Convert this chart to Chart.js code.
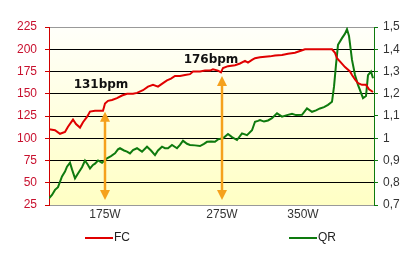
<!DOCTYPE html>
<html>
<head>
<meta charset="utf-8">
<script src="https://cdn.jsdelivr.net/npm/chart.js@4"></script>
<style>
body { margin: 0; background: #fff; }
</style>
</head>
<body>
<canvas id="myChart" width="418" height="257"></canvas>
<script>
// donnees (t = temps, 0..325)
var fcT = [0,6,11,16,19,24,27,31,34,38,41,46,51,54,56,59,63,68,73,78,84,88,94,99,104,109,114,118,122,126,131,136,141,144,151,156,161,164,169,172,174,179,186,191,196,199,203,206,211,216,221,226,233,239,246,251,256,261,271,283,286,288,292,296,301,303,306,309,313,317,320,324];
var fcVal = [110,109,105,107,113,121,116,112,118,124,130,131,131,131,139,142,143,145,148,150,150,151,154,158,160,158,162,165,167,170,170,171,172,175,175,176,176,177.5,176,174,179,181,182,184,187,185,188,190,191,191.6,192,193,193.5,195,196,198,200,200,200,200,196,190,185,180,175,171,166,162,160,160,155,152];

var qrT = [0,3,6,9,13,16,18,21,23,26,29,33,36,39,41,44,46,49,53,58,62,66,69,71,75,78,81,84,88,93,98,102,106,109,113,116,119,123,128,131,134,138,141,146,151,155,158,162,166,169,174,179,183,188,193,198,203,206,209,211,215,219,223,228,233,238,243,247,253,258,263,267,271,275,279,283,285,287,289,293,296,298,300,303,306,309,311,314,317,319,322,324];
var qrVal = [0.73,0.745,0.768,0.78,0.828,0.85,0.872,0.89,0.86,0.82,0.842,0.87,0.9,0.88,0.864,0.88,0.886,0.9,0.89,0.91,0.92,0.932,0.95,0.955,0.945,0.94,0.932,0.947,0.955,0.94,0.962,0.945,0.924,0.945,0.962,0.955,0.955,0.97,0.955,0.97,0.989,0.975,0.97,0.968,0.965,0.975,0.984,0.985,0.984,0.995,1.0,1.019,1.005,0.992,1.022,1.014,1.036,1.074,1.078,1.082,1.075,1.08,1.09,1.112,1.097,1.104,1.11,1.104,1.105,1.134,1.119,1.125,1.134,1.14,1.15,1.164,1.232,1.33,1.42,1.45,1.47,1.49,1.46,1.352,1.284,1.24,1.216,1.18,1.19,1.284,1.3,1.27];

var xTickPos = [56,173,254];
var xTickLabels = ['175W','275W','350W'];
var fcTicks = [25,50,75,100,125,150,175,200,225];
var qrTicks = [0.7,0.8,0.9,1.0,1.1,1.2,1.3,1.4,1.5];

// fleches + textes bpm
var noteLabels = ['131bpm','176bpm'];
var noteTextT = [52,162];
var noteTextY = [160,188];
var arrowT = [56,173];
var arrowTop = [129.8,170];
var arrowBottom = [30.6,30.6];

var legendNames = ['FC','QR'];
var redColor = '#e00000';
var greenColor = '#0e7a0e';

var fondPlugin = {
  id: 'fond',
  beforeDraw: function(chart){
    var c = chart.ctx, a = chart.chartArea;
    var g = c.createLinearGradient(0, a.top, 0, a.bottom);
    g.addColorStop(0, '#fffffa');
    g.addColorStop(1, '#ffffc4');
    c.save();
    c.fillStyle = g;
    c.fillRect(a.left, a.top, a.right - a.left, a.bottom - a.top);
    c.restore();
  }
};

function drawHead(c, x, y, dir){
  c.beginPath();
  c.moveTo(x, y);
  c.lineTo(x - 5, y + dir * 10);
  c.lineTo(x + 5, y + dir * 10);
  c.closePath();
  c.fill();
}

var notesPlugin = {
  id: 'notes',
  afterDatasetsDraw: function(chart){
    var c = chart.ctx, xs = chart.scales.x, ys = chart.scales.y;
    c.save();
    c.strokeStyle = '#f5a11c';
    c.fillStyle = '#f5a11c';
    c.lineWidth = 2.5;
    for (var i = 0; i < arrowT.length; i++){
      var x = Math.round(xs.getPixelForValue(arrowT[i]));
      var y1 = ys.getPixelForValue(arrowTop[i]);
      var y2 = ys.getPixelForValue(arrowBottom[i]);
      c.beginPath();
      c.moveTo(x, y1 + 8);
      c.lineTo(x, y2 - 8);
      c.stroke();
      drawHead(c, x, y1, 1);
      drawHead(c, x, y2, -1);
    }
    c.fillStyle = '#111';
    c.font = 'bold 12px "DejaVu Sans"';
    c.textAlign = 'center';
    c.textBaseline = 'middle';
    for (var j = 0; j < noteLabels.length; j++){
      c.fillText(noteLabels[j], xs.getPixelForValue(noteTextT[j]), ys.getPixelForValue(noteTextY[j]));
    }
    c.restore();
  }
};

var legendePlugin = {
  id: 'legende',
  afterDraw: function(chart){
    var c = chart.ctx;
    var xs = [85, 289];
    var cols = [redColor, greenColor];
    c.save();
    c.font = '12px "Liberation Sans"';
    c.textBaseline = 'middle';
    c.textAlign = 'left';
    for (var i = 0; i < legendNames.length; i++){
      c.strokeStyle = cols[i];
      c.lineWidth = 2;
      c.beginPath();
      c.moveTo(xs[i], 238);
      c.lineTo(xs[i] + 28, 238);
      c.stroke();
      c.fillStyle = '#222';
      c.fillText(legendNames[i], xs[i] + 29, 238);
    }
    c.restore();
  }
};

var ctx = document.getElementById('myChart').getContext('2d');
var chart = new Chart(ctx, {
  type: 'line',
  data: {
    datasets: [
      {
        label: 'FC',
        data: fcT.map(function(t, i){ return {x: t, y: fcVal[i]}; }),
        borderColor: redColor,
        borderWidth: 2,
        pointRadius: 0,
        tension: 0,
        yAxisID: 'y'
      },
      {
        label: 'QR',
        data: qrT.map(function(t, i){ return {x: t, y: qrVal[i]}; }),
        borderColor: greenColor,
        borderWidth: 2,
        pointRadius: 0,
        tension: 0,
        yAxisID: 'y1'
      }
    ]
  },
  options: {
    responsive: false,
    animation: false,
    layout: { padding: { top: 27, left: 0, right: 0, bottom: 30 } },
    plugins: { legend: { display: false }, tooltip: { enabled: false } },
    scales: {
      x: {
        type: 'linear',
        min: 0,
        max: 325,
        afterBuildTicks: function(s){ s.ticks = xTickPos.map(function(v){ return {value: v}; }); },
        afterFit: function(s){ s.height = 22; },
        ticks: {
          color: '#333',
          font: { family: 'Liberation Sans', size: 12 },
          padding: 2,
          maxRotation: 0,
          autoSkip: false,
          callback: function(v){ return xTickLabels[xTickPos.indexOf(v)]; }
        },
        grid: { display: false, drawTicks: false },
        border: { color: '#999' }
      },
      y: {
        position: 'left',
        min: 25,
        max: 225,
        afterBuildTicks: function(s){ s.ticks = fcTicks.map(function(v){ return {value: v}; }); },
        afterFit: function(s){ s.width = 49; },
        ticks: {
          color: '#c8102e',
          font: { family: 'Liberation Sans', size: 12 },
          padding: 8
        },
        grid: {
          color: function(c){ return (c.tick && (c.tick.value === 225 || c.tick.value === 25)) ? '#999' : '#000'; },
          tickColor: '#d00000',
          tickLength: 4
        },
        border: { color: '#d00000' }
      },
      y1: {
        position: 'right',
        min: 0.7,
        max: 1.5,
        afterBuildTicks: function(s){ s.ticks = qrTicks.map(function(v){ return {value: v}; }); },
        afterFit: function(s){ s.width = 44; },
        ticks: {
          color: '#333',
          font: { family: 'Liberation Sans', size: 12 },
          padding: 5,
          callback: function(v){ return String(Math.round(v * 10) / 10).replace('.', ','); }
        },
        grid: { drawOnChartArea: false, tickColor: '#0e7a0e', tickLength: 4 },
        border: { color: '#0e7a0e' }
      }
    }
  },
  plugins: [fondPlugin, notesPlugin, legendePlugin]
});
</script>
</body>
</html>
